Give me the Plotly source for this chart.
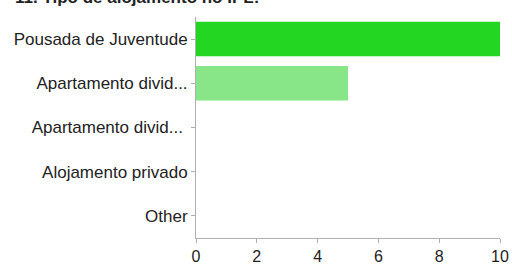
import plotly.graph_objects as go

categories = ["Pousada de Juventude", "Apartamento divid...", "Apartamento divid... ", "Alojamento privado", "Other"]
values = [10, 5, 0, 0, 0]
colors = ["#22d622", "#88e588", "#88e588", "#88e588", "#88e588"]
x_ticks = [0, 2, 4, 6, 8, 10]
title = "11. Tipo de alojamento no IPL:"

fig = go.Figure(go.Bar(
    y=categories, x=values, orientation="h",
    marker=dict(color=colors, line=dict(width=0)),
    width=0.78,
))

axis_color = "#b0b0b0"
fig.update_layout(
    width=512, height=264,
    margin=dict(l=196, r=12, t=17, b=26, autoexpand=False),
    paper_bgcolor="white", plot_bgcolor="white",
    font=dict(family="Liberation Sans, Arial, sans-serif", size=17, color="#222222"),
    showlegend=False,
    bargap=0.22,
)
fig.update_xaxes(
    range=[0, 10], tickvals=x_ticks, showgrid=False, zeroline=False,
    showline=True, linecolor=axis_color, linewidth=1,
    ticks="outside", ticklen=4, tickcolor=axis_color,
    tickfont=dict(size=16, color="#222222"), automargin=False,
)
fig.update_yaxes(
    categoryorder="array", categoryarray=categories[::-1],
    autorange=False, range=[-0.5, 4.5],
    showgrid=False, zeroline=False,
    showline=True, linecolor=axis_color, linewidth=1,
    ticks="outside", ticklen=4, tickcolor=axis_color,
    tickfont=dict(size=17, color="#222222"), automargin=False,
)
fig.add_annotation(
    text="<b>" + title + "</b>", xref="paper", yref="paper",
    x=-183/304, y=1, xanchor="left", yanchor="bottom", yshift=8,
    showarrow=False, font=dict(size=17, color="#222222"),
)
fig.write_html("out.html", config={"displayModeBar": False},
               post_script="document.body.style.margin='0';")
